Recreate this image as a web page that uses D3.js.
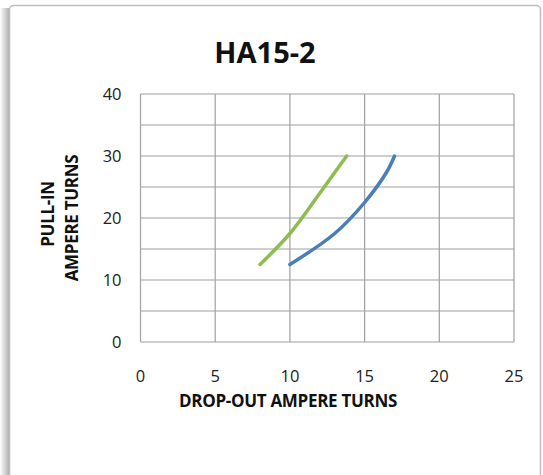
<!DOCTYPE html>
<html>
<head>
<meta charset="utf-8">
<script src="https://cdn.jsdelivr.net/npm/d3@7"></script>
<style>
  body { margin: 0; background: #fff; }
  svg { display: block; font-family: 'Open Sans', 'Noto Sans', sans-serif; }
</style>
</head>
<body>
<div id="vis"></div>
<script>
const title = 'HA15-2';
const xTicks = [0, 5, 10, 15, 20, 25];
const yTicks = [0, 10, 20, 30, 40];
const yMinor = [5, 15, 25, 35];

// pull-in vs drop-out ampere turns
const greenX = [8, 10, 12, 13.8];
const greenY = [12.5, 17.5, 24, 30];
const blueX = [10, 13, 15, 16.5, 17];
const blueY = [12.5, 17.5, 22.5, 27.5, 30];

const width = 543;
const height = 475;
const margin = {top: 94, right: 29, bottom: 133, left: 140.5};

const svg = d3.select('#vis').append('svg')
    .attr('width', width)
    .attr('height', height);

const defs = svg.append('defs');
const grad = defs.append('linearGradient')
    .attr('id', 'shadow')
    .attr('x1', 0).attr('x2', 1);
grad.append('stop').attr('offset', 0).attr('stop-color', '#fff');
grad.append('stop').attr('offset', 1).attr('stop-color', '#a8a8a8');

// frame with left shadow
svg.append('rect')
    .attr('x', 0).attr('y', 8)
    .attr('width', 10).attr('height', height)
    .attr('fill', 'url(#shadow)');
svg.append('rect')
    .attr('x', 9.5).attr('y', 5.5)
    .attr('width', width - 12).attr('height', height + 20)
    .attr('rx', 4)
    .attr('fill', '#fff')
    .attr('stroke', '#bdbdbd')
    .attr('stroke-width', 1.5);

const x = d3.scaleLinear()
    .domain([0, 25])
    .range([margin.left, width - margin.right]);

const y = d3.scaleLinear()
    .domain([0, 40])
    .range([height - margin.bottom, margin.top]);

const grid = svg.append('g')
    .attr('stroke', '#a0a0a0')
    .attr('stroke-width', 1.2);

grid.selectAll('.hy')
  .data(yTicks.concat(yMinor))
  .join('line')
    .attr('x1', x(0)).attr('x2', x(25))
    .attr('y1', d => y(d)).attr('y2', d => y(d));

grid.selectAll('.vx')
  .data(xTicks)
  .join('line')
    .attr('x1', d => x(d)).attr('x2', d => x(d))
    .attr('y1', y(0)).attr('y2', y(40));

// y axis labels
svg.append('g')
  .selectAll('text')
  .data(yTicks)
  .join('text')
    .attr('x', x(0) - 19)
    .attr('y', d => y(d))
    .attr('dy', '0.35em')
    .attr('text-anchor', 'end')
    .attr('font-size', 16.5)
    .attr('fill', '#222')
    .text(d => d);

// x axis labels
svg.append('g')
  .selectAll('text')
  .data(xTicks)
  .join('text')
    .attr('x', d => x(d))
    .attr('y', y(0) + 40)
    .attr('text-anchor', 'middle')
    .attr('font-size', 16.5)
    .attr('fill', '#222')
    .text(d => d);

const line = d3.line()
    .x(d => x(d[0]))
    .y(d => y(d[1]))
    .curve(d3.curveCatmullRom);

svg.append('path')
    .datum(d3.zip(greenX, greenY))
    .attr('d', line)
    .attr('fill', 'none')
    .attr('stroke', '#8fbc4f')
    .attr('stroke-width', 3.5)
    .attr('stroke-linecap', 'round');

svg.append('path')
    .datum(d3.zip(blueX, blueY))
    .attr('d', line)
    .attr('fill', 'none')
    .attr('stroke', '#4a7ebb')
    .attr('stroke-width', 3.5)
    .attr('stroke-linecap', 'round');

svg.append('text')
    .attr('x', 265)
    .attr('y', 63)
    .attr('text-anchor', 'middle')
    .attr('font-size', 29)
    .attr('font-weight', 'bold')
    .attr('fill', '#111')
    .text(title);

svg.append('text')
    .attr('x', 288)
    .attr('y', 407)
    .attr('text-anchor', 'middle')
    .attr('font-size', 17)
    .attr('font-weight', 'bold')
    .attr('letter-spacing', -0.3)
    .attr('fill', '#111')
    .text('DROP-OUT  AMPERE TURNS');

const yTitle = svg.append('text')
    .attr('transform', `translate(0, ${y(20)}) rotate(-90)`)
    .attr('text-anchor', 'middle')
    .attr('font-size', 17)
    .attr('font-weight', 'bold')
    .attr('letter-spacing', -0.3)
    .attr('fill', '#111');
yTitle.append('tspan').attr('x', 4).attr('y', 54).text('PULL-IN');
yTitle.append('tspan').attr('x', 0).attr('y', 78).text('AMPERE TURNS');
</script>
</body>
</html>
